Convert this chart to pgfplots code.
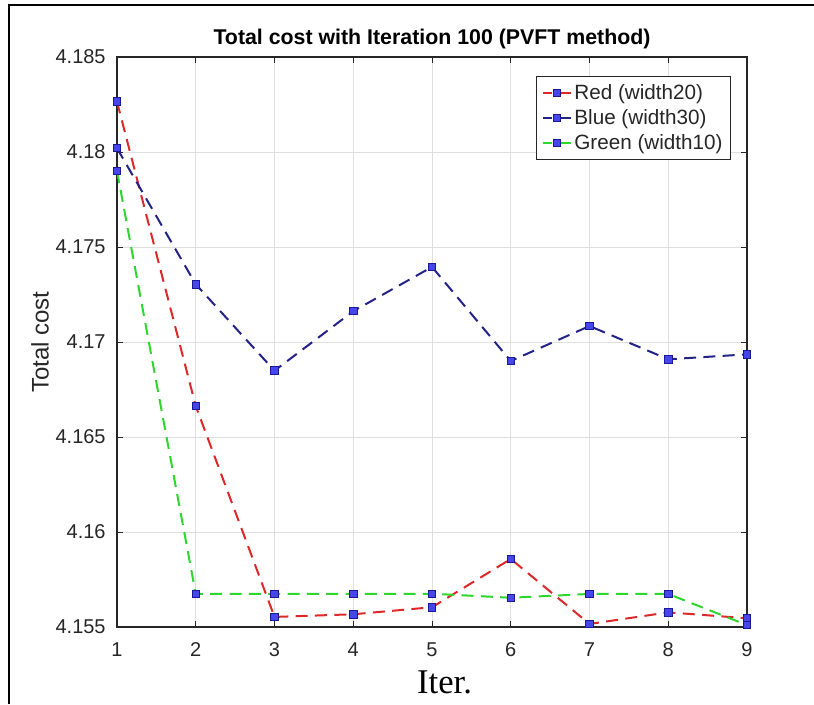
\documentclass[border=0pt]{standalone}
\usepackage{pgfplots}
\pgfplotsset{compat=1.18}
\usepackage{fontspec}
\setmainfont{Liberation Sans}
\newfontfamily\serifit{Liberation Serif}
\definecolor{mred}{RGB}{220,40,40}
\definecolor{mblue}{RGB}{35,35,135}
\definecolor{mgreen}{RGB}{45,215,45}
\definecolor{mfill}{RGB}{70,70,235}
\definecolor{medge}{RGB}{25,25,150}
\definecolor{axgray}{RGB}{38,38,38}
\begin{document}
\begin{tikzpicture}
\path[use as bounding box] (0pt,0pt) rectangle (610.5pt,528pt);
\draw[line width=1.1pt,black] (6.75pt,0pt) -- (6.75pt,524.25pt) -- (610.5pt,524.25pt);
\begin{axis}[
  at={(87.75pt,57.75pt)}, anchor=south west,
  scale only axis, width=472.5pt, height=427.5pt,
  xmin=1, xmax=9, ymin=4.155, ymax=4.185,
  xtick={1,2,...,9},
  ytick={4.155,4.16,4.165,4.17,4.175,4.18,4.185},
  yticklabels={4.155,4.16,4.165,4.17,4.175,4.18,4.185},
  /pgf/number format/assume math mode=true,
  tick label style={font=\fontsize{15}{15}\selectfont, text=axgray},
  xticklabel style={yshift=-8pt},
  yticklabel style={xshift=-5pt},
  tick align=inside, major tick length=4.5pt,
  tick style={axgray, line width=0.6pt},
  axis line style={axgray, line width=0.8pt},
  grid=major, major grid style={gray!25, line width=0.5pt},
  clip=false,
  title={Total cost with Iteration 100 (PVFT method)},
  title style={font=\bfseries\fontsize{16}{16}\selectfont, at={(axis description cs:0.5,1)}, anchor=base, yshift=3.5pt},
  ylabel={Total cost},
  ylabel style={font=\fontsize{18}{18}\selectfont, text=axgray, at={(axis description cs:-0.122,0.5)}, anchor=center, rotate=0},
  xlabel={Iter.},
  xlabel style={font=\serifit\fontsize{26}{26}\selectfont, at={(axis description cs:0.52,-0.097)}, anchor=center},
  legend style={at={(axis description cs:0.9746,0.9667)}, anchor=north east, draw=axgray, line width=0.6pt, font=\fontsize{15.5}{17}\selectfont, text=axgray, row sep=2pt, inner xsep=4pt, inner ysep=4pt},
  legend cell align=left,
  legend image code/.code={
    \draw[#1, solid, mark=none] (0pt,0pt) -- (7pt,0pt);
    \draw[#1, solid, mark=none] (14pt,0pt) -- (21pt,0pt);
    \draw[#1, only marks] plot coordinates {(10.5pt,0pt)};
  },
]
\addplot[mred, line width=1.5pt, dash pattern=on 9pt off 5.5pt, mark=square*, mark size=2.8pt, mark options={solid, fill=mfill, draw=medge, line width=0.7pt}] coordinates {(1,4.18265) (2,4.16663) (3,4.15553) (4,4.15567) (5,4.15604) (6,4.15858) (7,4.15516) (8,4.15577) (9,4.15546)};
\addlegendentry{Red (width20)}
\addplot[mblue, line width=1.5pt, dash pattern=on 9pt off 5.5pt, mark=square*, mark size=2.8pt, mark options={solid, fill=mfill, draw=medge, line width=0.7pt}] coordinates {(1,4.1802) (2,4.17304) (3,4.16849) (4,4.17162) (5,4.17395) (6,4.1690) (7,4.17084) (8,4.16909) (9,4.16935)};
\addlegendentry{Blue (width30)}
\addplot[mgreen, line width=1.5pt, dash pattern=on 9pt off 5.5pt, mark=square*, mark size=2.8pt, mark options={solid, fill=mfill, draw=medge, line width=0.7pt}] coordinates {(1,4.1790) (2,4.15674) (3,4.15674) (4,4.15674) (5,4.15675) (6,4.15654) (7,4.15674) (8,4.15674) (9,4.1551)};
\addlegendentry{Green (width10)}
\end{axis}
\end{tikzpicture}
\end{document}
